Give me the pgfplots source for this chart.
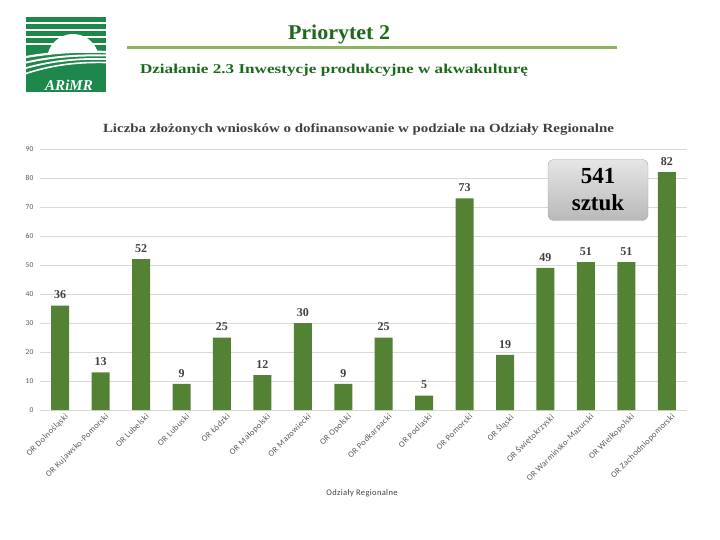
\documentclass[border=0pt]{standalone}
\usepackage{pgfplots}
\pgfplotsset{compat=1.18}
\usepackage{graphicx}
\usepackage{fontspec}
\setmainfont{Liberation Serif}
\newfontfamily\calfont[LetterSpace=4]{Carlito}
\newfontfamily\calplain{Carlito}
\newfontfamily\djs{DejaVu Serif}
\definecolor{barg}{HTML}{548235}
\definecolor{logog}{HTML}{1E874B}
\definecolor{titleg}{HTML}{1A6A1A}
\definecolor{rulec}{HTML}{8FB35F}
\definecolor{txtg}{HTML}{404040}
\definecolor{tickg}{HTML}{595959}
\definecolor{gridg}{HTML}{D9D9D9}
\begin{document}
\begin{tikzpicture}[x=1pt,y=1pt]
\path (0,0) rectangle (720,-540);
% logo
\fill[logog] (26,-17) rectangle (106,-92);
\begin{scope}
\clip (26,-17) rectangle (106,-92);
\foreach \y in {23,30,37,44} \draw[white, line width=1.6pt] (26,-\y) -- (106,-\y);
\begin{scope}
\clip (26,-17) rectangle (106,-53);
\fill[white] (73,-60) circle (26);
\end{scope}
\draw[white, line width=2.2pt] (26,-57) .. controls (55,-52) and (80,-51) .. (106,-52);
\draw[white, line width=2pt] (26,-62.5) .. controls (55,-56) and (80,-55) .. (106,-55.5);
\draw[white, line width=1.8pt] (26,-68) .. controls (55,-60) and (80,-58.5) .. (106,-59);
\draw[white, line width=1.6pt] (26,-73.5) .. controls (55,-64) and (80,-62) .. (106,-62.5);
\end{scope}
\node[white, font=\bfseries\itshape\fontsize{15}{15}\selectfont] at (69,-85) {ARiMR};
% titles
\node[anchor=base, inner sep=0pt, text=titleg] at (339,-40) {\resizebox{102pt}{\height}{\bfseries\fontsize{21}{21}\selectfont Priorytet 2}};
\draw[rulec, line width=3pt] (127,-48) -- (617,-48);
\node[anchor=base, inner sep=0pt, text=titleg] at (334,-73.3) {\resizebox{388pt}{\height}{\bfseries\fontsize{13.5}{13.5}\selectfont Działanie 2.3 Inwestycje produkcyjne w akwakulturę}};
\node[anchor=base, inner sep=0pt, text=txtg] at (358.5,-133) {\resizebox{511pt}{\height}{\bfseries\fontsize{12.5}{12.5}\selectfont Liczba złożonych wniosków o dofinansowanie w podziale na Odziały Regionalne}};
\begin{axis}[
  at={(40pt,-410pt)}, anchor=south west,
  scale only axis, width=647pt, height=261pt,
  ymin=0, ymax=90, ytick={0,10,...,90},
  xmin=-0.5, xmax=15.5, xtick={0,...,15},
  xticklabels={OR Dolnośląski, OR Kujawsko-Pomorski, OR Lubelski, OR Lubuski, OR Łódzki, OR Małopolski, OR Mazowiecki, OR Opolski, OR Podkarpacki, OR Podlaski, OR Pomorski, OR Śląski, OR Świętokrzyski, OR Warmińsko-Mazurski, OR Wielkopolski, OR Zachodniopomorski},
  axis line style={draw=none},
  ymajorgrids, grid style={gridg, line width=0.8pt},
  major tick length=0pt,
  ybar, bar width=18pt,
  yticklabel style={font=\calfont\fontsize{7.5}{7.5}\selectfont, text=tickg, xshift=-3pt},
  xticklabel style={rotate=45, anchor=north east, font=\calfont\fontsize{8.5}{8.5}\selectfont, text=tickg, inner sep=1pt, xshift=2pt, yshift=-4pt},
  nodes near coords,
  nodes near coords style={font=\bfseries\fontsize{12}{12}\selectfont, text=txtg, yshift=3pt},
  /pgf/number format/assume math mode=true,
]
\addplot[fill=barg, draw=none] coordinates {
(0,36) (1,13) (2,52) (3,9) (4,25) (5,12) (6,30) (7,9) (8,25) (9,5) (10,73) (11,19) (12,49) (13,51) (14,51) (15,82)};
\end{axis}
\node[draw=gray!70, rounded corners=6pt, top color=gray!20, bottom color=gray!55, minimum width=100pt, minimum height=61pt, align=center, font=\bfseries\fontsize{23}{27}\selectfont] at (598,-190) {541\\sztuk};
\node[font=\calfont\fontsize{8.5}{8.5}\selectfont, text=txtg] at (362,-493) {Odziały Regionalne};
\end{tikzpicture}
\end{document}
